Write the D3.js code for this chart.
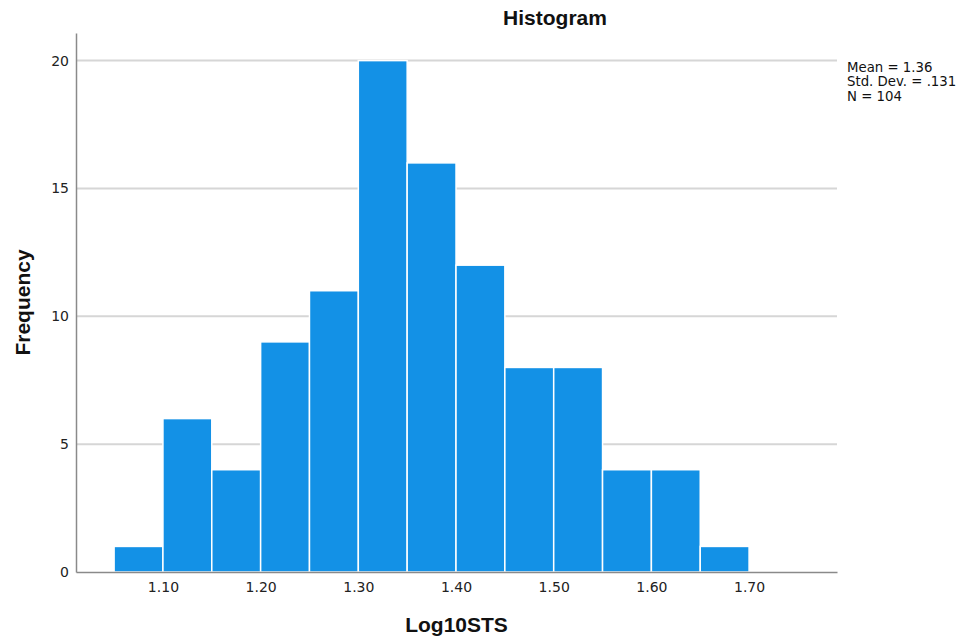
<!DOCTYPE html>
<html>
<head>
<meta charset="utf-8">
<style>
    body { margin: 0; background: #fff; }
    .tick text { font: 14px "DejaVu Sans", sans-serif; fill: #222; }
    .title, .axis-title { font-family: "Liberation Sans", Arial, sans-serif; font-weight: bold; fill: #111; }
    .stats text { font: 13.3px "DejaVu Sans", sans-serif; fill: #111; }
</style>
<script src="https://d3js.org/d3.v7.min.js"></script>
</head>
<body>
<svg width="963" height="642"></svg>
<script>
    // histogram data, bins are 0.05 wide
    var binStarts = [1.05, 1.10, 1.15, 1.20, 1.25, 1.30, 1.35, 1.40, 1.45, 1.50, 1.55, 1.60, 1.65];
    var counts = [1, 6, 4, 9, 11, 20, 16, 12, 8, 8, 4, 4, 1];
    var binWidth = 0.05;
    var xTicks = [1.10, 1.20, 1.30, 1.40, 1.50, 1.60, 1.70];
    var yTicks = [0, 5, 10, 15, 20];
    var stats = ["Mean = 1.36", "Std. Dev. = .131", "N = 104"];

    var svg = d3.select("svg");
    var plotLeft = 76, plotRight = 837, plotTop = 33, plotBottom = 572;

    var x = d3.scaleLinear().domain([1.011, 1.790]).range([plotLeft, plotRight]);
    var y = d3.scaleLinear().domain([0, 21.08]).range([plotBottom, plotTop]);

    // grid lines
    svg.append("g")
       .selectAll("line")
       .data(yTicks.filter(function(d) { return d > 0; }))
       .enter().append("line")
       .attr("x1", plotLeft).attr("x2", plotRight)
       .attr("y1", function(d) { return y(d); })
       .attr("y2", function(d) { return y(d); })
       .attr("stroke", "#d6d6d6")
       .attr("stroke-width", 2);

    // bars
    svg.append("g")
       .selectAll("rect")
       .data(counts)
       .enter().append("rect")
       .attr("x", function(d, i) { return x(binStarts[i]); })
       .attr("width", function(d, i) { return x(binStarts[i] + binWidth) - x(binStarts[i]); })
       .attr("y", function(d) { return y(d); })
       .attr("height", function(d) { return y(0) - y(d); })
       .attr("fill", "#1391e6")
       .attr("stroke", "#fff")
       .attr("stroke-width", 1.5);

    var xAxis = svg.append("g")
       .attr("transform", "translate(0," + plotBottom + ")")
       .call(d3.axisBottom(x).tickValues(xTicks).tickSize(0).tickPadding(10).tickFormat(d3.format(".2f")));

    var yAxis = svg.append("g")
       .attr("transform", "translate(" + plotLeft + ",0)")
       .call(d3.axisLeft(y).tickValues(yTicks).tickSize(0).tickPadding(7));

    [xAxis, yAxis].forEach(function(a) {
        a.select(".domain").attr("stroke", "#8a8a8a").attr("stroke-width", 1.5);
    });

    svg.append("text")
       .attr("class", "title")
       .attr("x", 555).attr("y", 25)
       .attr("text-anchor", "middle")
       .style("font-size", "21px")
       .text("Histogram");

    svg.append("text")
       .attr("class", "axis-title")
       .attr("x", (plotLeft + plotRight) / 2).attr("y", 632)
       .attr("text-anchor", "middle")
       .style("font-size", "21px")
       .text("Log10STS");

    svg.append("text")
       .attr("class", "axis-title")
       .attr("transform", "translate(30," + ((plotTop + plotBottom) / 2) + ") rotate(-90)")
       .attr("text-anchor", "middle")
       .style("font-size", "21px")
       .text("Frequency");

    svg.append("g")
       .attr("class", "stats")
       .selectAll("text")
       .data(stats)
       .enter().append("text")
       .attr("x", 847)
       .attr("y", function(d, i) { return 71.5 + i * 14.5; })
       .text(function(d) { return d; });
</script>
</body>
</html>
